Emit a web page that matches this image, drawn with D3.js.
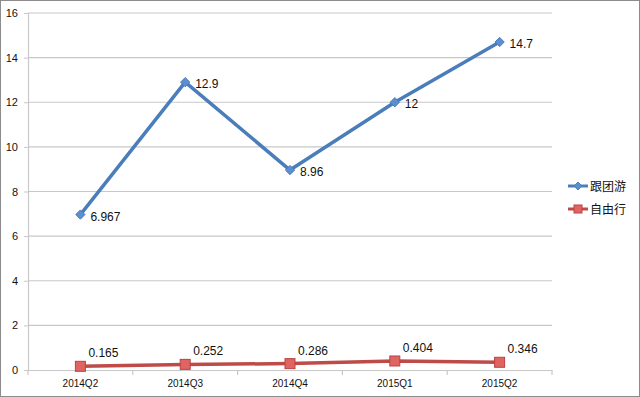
<!DOCTYPE html>
<html><head><meta charset="utf-8">
<script src="https://cdn.jsdelivr.net/npm/d3@7"></script>
<style>body{margin:0;background:#fff}svg{display:block}</style>
</head><body>
<script>
const categories = ["2014Q2","2014Q3","2014Q4","2015Q1","2015Q2"];
const groupTour = [6.967, 12.9, 8.96, 12, 14.7];
const freeTour = [0.165, 0.252, 0.286, 0.404, 0.346];
const groupLabels = ["6.967","12.9","8.96","12","14.7"];
const freeLabels = ["0.165","0.252","0.286","0.404","0.346"];
const seriesNames = ["跟团游","自由行"];
const yTicks = [0,2,4,6,8,10,12,14,16];

const W=640,H=397;
const svg=d3.select("body").append("svg").attr("width",W).attr("height",H);
svg.append("rect").attr("x",0.5).attr("y",0.5).attr("width",W-1).attr("height",H-1).attr("fill","#fff").attr("stroke","#8c8c8c");

const x=d3.scaleBand().domain(categories).range([28,552]);
const y=d3.scaleLinear().domain([0,16]).range([370,13]);
const font="'Liberation Sans', Arial, sans-serif";

// gridlines
svg.append("g").selectAll("line").data(yTicks.filter(d=>d>0)).join("line")
 .attr("x1",28).attr("x2",552).attr("y1",d=>y(d)).attr("y2",d=>y(d))
 .attr("stroke","#c8c8c8").attr("stroke-width",1.2);

// y axis
const ya=svg.append("g").attr("transform","translate(28,0)")
 .call(d3.axisLeft(y).tickValues(yTicks).tickSize(4).tickPadding(6));
ya.select(".domain").attr("stroke","#c8c8c8").attr("stroke-width",1.2);
ya.selectAll(".tick line").attr("stroke","#c8c8c8");
ya.selectAll("text").attr("font-family",font).attr("font-size",11).attr("fill","#111");

// x axis
const xa=svg.append("g").attr("transform","translate(0,370)")
 .call(d3.axisBottom(x).tickSize(0).tickPadding(10));
xa.select(".domain").attr("stroke","#c8c8c8").attr("stroke-width",1.2);
xa.selectAll("text").attr("font-family",font).attr("font-size",10).attr("fill","#111");
// boundary ticks
const bounds=categories.map(c=>x(c)).concat([x.range()[1]]);
svg.append("g").selectAll("line").data(bounds).join("line")
 .attr("x1",d=>d).attr("x2",d=>d).attr("y1",370).attr("y2",375)
 .attr("stroke","#c8c8c8").attr("stroke-width",1.2);

const cx=c=>x(c)+x.bandwidth()/2;
const line=d3.line().x((d,i)=>cx(categories[i])).y(d=>y(d));

const blue="#4a7ebb", red="#be4b48";
svg.append("path").datum(groupTour).attr("d",line).attr("fill","none").attr("stroke",blue).attr("stroke-width",3.5).attr("stroke-linejoin","round");
svg.append("path").datum(freeTour).attr("d",line).attr("fill","none").attr("stroke",red).attr("stroke-width",3.5).attr("stroke-linejoin","round");

// markers
svg.append("g").selectAll("path").data(groupTour).join("path")
 .attr("d",d3.symbol(d3.symbolDiamond2,55)())
 .attr("transform",(d,i)=>`translate(${cx(categories[i])},${y(d)})`)
 .attr("fill","#5b8fd0").attr("stroke","#4a7ebb").attr("stroke-width",1).attr("stroke-linejoin","round");
svg.append("g").selectAll("rect").data(freeTour).join("rect")
 .attr("x",(d,i)=>cx(categories[i])-5).attr("y",d=>y(d)-5).attr("width",10).attr("height",10)
 .attr("fill","#e06462").attr("stroke","#b84441").attr("stroke-width",1);

// labels
svg.append("g").selectAll("text").data(groupTour).join("text")
 .attr("x",(d,i)=>cx(categories[i])+10).attr("y",d=>y(d)+6)
 .text((d,i)=>groupLabels[i]).attr("font-family",font).attr("font-size",12).attr("fill","#111");
svg.append("g").selectAll("text").data(freeTour).join("text")
 .attr("x",(d,i)=>cx(categories[i])+8).attr("y",d=>y(d)-9)
 .text((d,i)=>freeLabels[i]).attr("font-family",font).attr("font-size",12).attr("fill","#111");

// legend
const lg=svg.append("g").attr("transform","translate(568,186)");
[blue,red].forEach((c,i)=>{
  const g=lg.append("g").attr("transform",`translate(0,${i*23})`);
  g.append("line").attr("x1",0).attr("x2",20).attr("stroke",c).attr("stroke-width",3);
  if(i===0) g.append("path").attr("d",d3.symbol(d3.symbolDiamond2,40)()).attr("transform","translate(10,0)").attr("fill","#5b8fd0").attr("stroke","#4a7ebb");
  else g.append("rect").attr("x",6).attr("y",-4).attr("width",8).attr("height",8).attr("fill","#e06462").attr("stroke","#b84441");
  g.append("text").attr("x",22).attr("y",5).text(seriesNames[i]).attr("font-family","'Noto Sans CJK SC'").attr("font-size",12).attr("fill","#111");
});
</script>
</body></html>
